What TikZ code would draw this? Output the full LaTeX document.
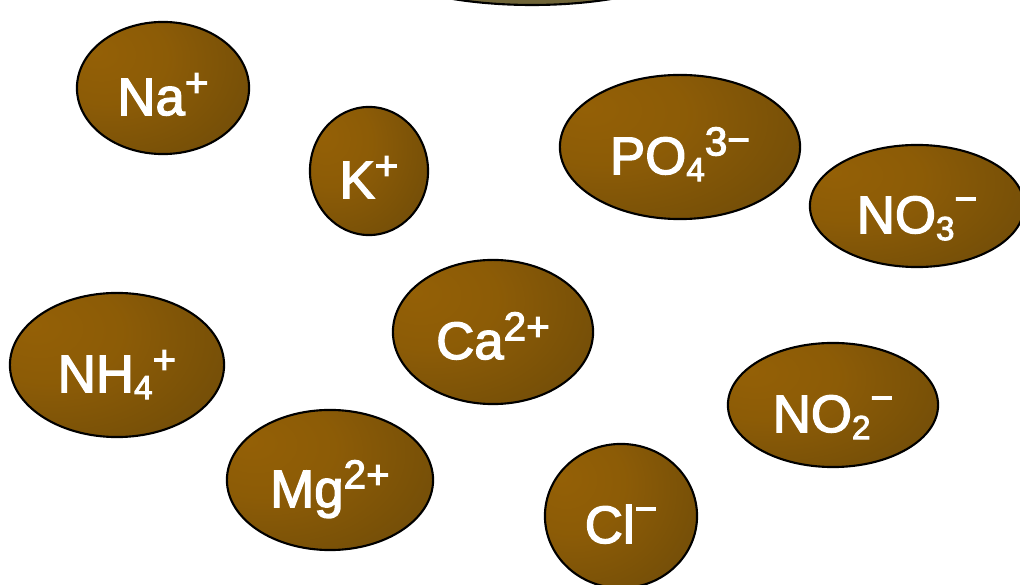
\documentclass[tikz,border=0pt]{standalone}
\usepackage{fontspec}
\setmainfont{Liberation Sans}
\newfontfamily{\ionface}[FakeBold=2.6]{Liberation Sans}
\usetikzlibrary{shapes.geometric}
\definecolor{ionlight}{RGB}{148,96,6}
\definecolor{iondark}{RGB}{94,66,9}
\definecolor{capolive}{RGB}{112,101,56}
\pgfdeclareradialshading{ionball}{\pgfpoint{-20bp}{14bp}}{color(0bp)=(ionlight); color(18bp)=(ionlight!85!iondark); color(62bp)=(iondark); color(100bp)=(iondark)}
\newcommand{\ionfont}{\ionface\fontsize{15pt}{18pt}\selectfont}
\newcommand{\isup}[1]{\raisebox{5.3pt}{\fontsize{11.5pt}{11pt}\selectfont #1}}
\newcommand{\isub}[1]{\raisebox{-2pt}{\fontsize{9.5pt}{9.5pt}\selectfont #1}}
\newcommand{\iminus}{\raisebox{6pt}{\fontsize{11pt}{11pt}\selectfont −}}
\begin{document}
\begin{tikzpicture}[x=0.01cm, y=-0.01cm,
    ion/.style={ellipse, draw=black, line width=0.6pt, shading=ionball,
        text=white, font=\ionfont, text height=15.4pt, text depth=0pt,
        inner sep=0pt, outer sep=0pt}]
    \useasboundingbox (0,0) rectangle (1020,585);
    \clip (0,0) rectangle (1020,585);
    % ion at the top edge, cut off
    \draw[fill=capolive, line width=0.6pt] (532,-65) ellipse [x radius=195, y radius=70];
    \foreach \nm/\x/\y/\rx/\ry/\lbl in {
        na/163/88/86/66/{Na\isup{+}},
        k/369/171/59/64/{K\isup{+}},
        po/680/147/120/72/{PO\isub{4}\isup{3}\iminus},
        nothree/917/206/107/61/{NO\isub{3}\iminus},
        ca/493/332/100/72/{Ca\isup{2+}},
        nh/117/365/107/72/{NH\isub{4}\isup{+}},
        notwo/833/405/105/62/{NO\isub{2}\iminus},
        mg/330/480/103/70/{Mg\isup{2+}},
        cl/621/516/76/72/{Cl\iminus}}{
        \pgfmathsetmacro{\w}{0.02*\rx}
        \pgfmathsetmacro{\h}{0.02*\ry}
        \node[ion, minimum width=\w cm, minimum height=\h cm] (\nm) at (\x,\y) {\lbl};
    }
\end{tikzpicture}
\end{document}
